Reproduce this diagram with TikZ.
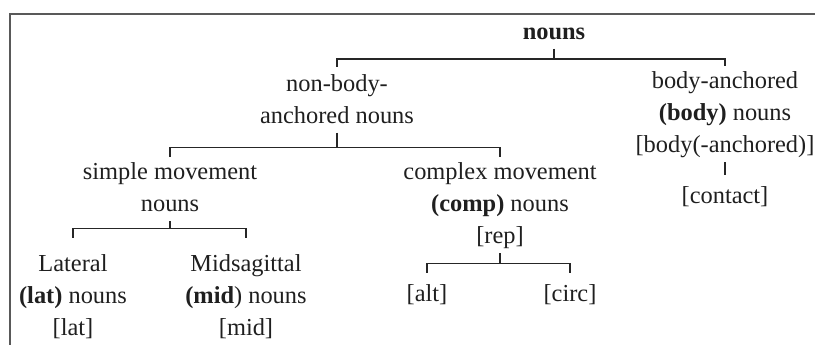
\documentclass[tikz,border=0pt]{standalone}
\usepackage{fontspec}
\setmainfont{Liberation Serif}
\newcommand\lblstrut{\rule[-9.6pt]{0pt}{32pt}}

\begin{document}
\begin{tikzpicture}[x=1pt,y=-1pt,
        lbl/.style={anchor=north,align=center,inner sep=0pt,text=black!88,
            font=\fontsize{24.4}{32}\selectfont,execute at end node=\lblstrut},
        branch/.style={line width=1.5pt,draw=black!85}]
        \useasboundingbox (0,0) rectangle (815,345);
        \draw[line width=1.6pt,black!65] (815,14) -- (10,14) -- (10,345);
        \node[lbl] (nouns) at (554,16.6) {\lblstrut\textbf{nouns}};
        \node[lbl] (nonbody) at (337,68.6) {\lblstrut non-body-\\anchored nouns};
        \node[lbl] (body) at (725,66) {\lblstrut body-anchored\\\textbf{(body)} nouns\\{[}body(-anchored){]}};
        \node[lbl] (contact) at (725,180.6) {\lblstrut[contact]};
        \node[lbl] (simple) at (170,156.6) {\lblstrut simple movement\\nouns};
        \node[lbl] (complex) at (500,156.6) {\lblstrut complex movement\\\textbf{(comp)} nouns\\{[}rep{]}};
        \node[lbl] (lat) at (73,248.6) {\lblstrut Lateral\\\textbf{(lat)} nouns\\{[}lat{]}};
        \node[lbl] (mid) at (246,248.6) {\lblstrut Midsagittal\\\textbf{(mid}) nouns\\{[}mid{]}};
        \node[lbl] (alt) at (427,278.6) {\lblstrut[alt]};
        \node[lbl] (circ) at (570,278.6) {\lblstrut[circ]};
        \foreach \p/\c/\d/\s in {nouns/nonbody/10/2pt,nouns/body/10/0pt,nonbody/simple/14.4/0pt,nonbody/complex/14.4/0pt,
            simple/lat/7.4/10.6pt,simple/mid/7.4/10.6pt,complex/alt/10.4/5.6pt,complex/circ/10.4/5.6pt}{
                \draw[branch,shorten >=\s] (\p.south) -- ++(0,\d) -| (\c.north);
        };
        \draw[branch,shorten >=5.6pt] (body) -- (contact);
    \end{tikzpicture}
\end{document}
